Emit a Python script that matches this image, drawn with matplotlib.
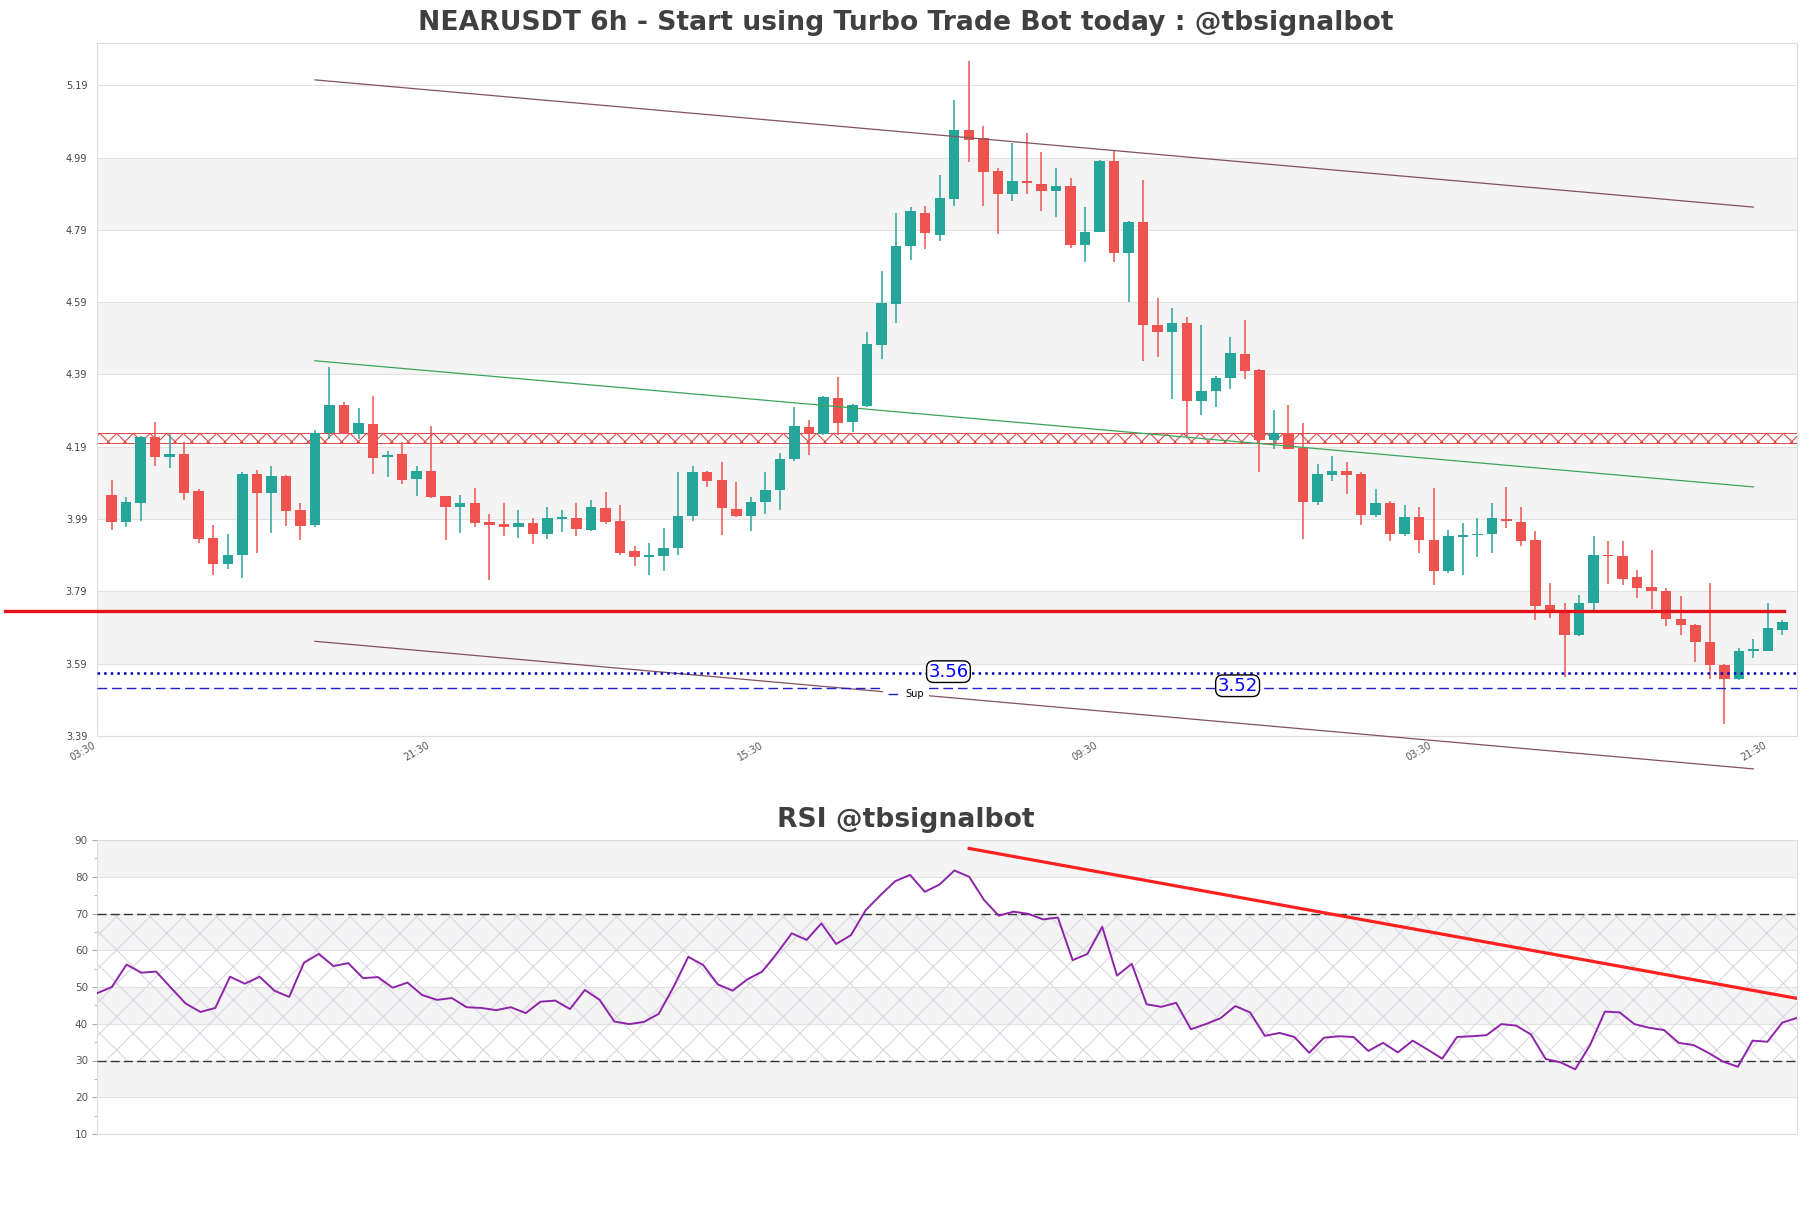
#!/usr/bin/env python3
"""NEARUSDT 6h candles with channel, support levels and RSI panel."""

import numpy as np
import matplotlib.pyplot as plt

# ---- data ----
opens = [4.056, 3.981, 4.034, 4.216, 4.161, 4.171, 4.067, 3.939, 3.867, 3.891,
         4.114, 4.062, 4.110, 4.014, 3.973, 4.227, 4.307, 4.225, 4.253, 4.163,
         4.169, 4.100, 4.123, 4.053, 4.024, 4.034, 3.981, 3.977, 3.967, 3.980,
         3.948, 3.991, 3.992, 3.961, 4.022, 3.986, 3.901, 3.884, 3.888, 3.911,
         3.999, 4.119, 4.098, 4.019, 3.999, 4.038, 4.070, 4.155, 4.246, 4.225,
         4.324, 4.259, 4.304, 4.472, 4.584, 4.745, 4.837, 4.777, 4.876, 5.066,
         5.044, 4.952, 4.889, 4.926, 4.917, 4.898, 4.911, 4.748, 4.784, 4.980,
         4.726, 4.813, 4.526, 4.508, 4.533, 4.318, 4.343, 4.380, 4.447, 4.403,
         4.210, 4.227, 4.187, 4.037, 4.113, 4.122, 4.116, 4.000, 4.034, 3.949,
         3.996, 3.933, 3.846, 3.941, 3.945, 3.948, 3.990, 3.981, 3.933, 3.751,
         3.736, 3.669, 3.757, 3.892, 3.888, 3.829, 3.803, 3.791, 3.713, 3.698,
         3.650, 3.586, 3.549, 3.625, 3.625, 3.683]
highs = [4.098, 4.051, 4.220, 4.259, 4.225, 4.202, 4.072, 3.973, 3.948, 4.119,
         4.127, 4.136, 4.112, 4.034, 4.237, 4.410, 4.314, 4.297, 4.331, 4.177,
         4.202, 4.138, 4.248, 4.053, 4.057, 4.075, 4.003, 4.034, 4.015, 3.992,
         4.024, 4.015, 4.034, 4.044, 4.066, 4.028, 3.916, 3.924, 3.964, 4.119,
         4.136, 4.122, 4.149, 4.094, 4.051, 4.119, 4.174, 4.301, 4.263, 4.330,
         4.384, 4.308, 4.507, 4.676, 4.837, 4.853, 4.857, 4.942, 5.149, 5.256,
         5.078, 4.961, 5.030, 5.057, 5.006, 4.961, 4.933, 4.853, 4.984, 5.012,
         4.815, 4.927, 4.602, 4.574, 4.549, 4.526, 4.387, 4.494, 4.542, 4.405,
         4.291, 4.307, 4.256, 4.142, 4.164, 4.149, 4.119, 4.072, 4.041, 4.028,
         4.024, 4.075, 3.961, 3.980, 3.994, 4.034, 4.079, 4.024, 3.958, 3.812,
         3.757, 3.780, 3.943, 3.929, 3.929, 3.850, 3.905, 3.800, 3.778, 3.700,
         3.812, 3.588, 3.634, 3.657, 3.757, 3.711]
lows = [3.961, 3.968, 3.984, 4.136, 4.132, 4.043, 3.924, 3.834, 3.853, 3.827,
        3.897, 3.952, 3.971, 3.933, 3.968, 4.212, 4.225, 4.212, 4.116, 4.107,
        4.088, 4.053, 4.047, 3.933, 3.952, 3.968, 3.821, 3.943, 3.938, 3.920,
        3.936, 3.954, 3.943, 3.958, 3.977, 3.892, 3.859, 3.834, 3.846, 3.892,
        3.984, 4.079, 3.945, 3.996, 3.958, 4.003, 4.015, 4.151, 4.168, 4.222,
        4.222, 4.231, 4.301, 4.434, 4.533, 4.707, 4.737, 4.758, 4.856, 4.977,
        4.856, 4.779, 4.870, 4.889, 4.843, 4.825, 4.739, 4.701, 4.784, 4.701,
        4.591, 4.428, 4.438, 4.323, 4.216, 4.279, 4.301, 4.349, 4.377, 4.121,
        4.183, 4.183, 3.935, 4.028, 4.095, 4.060, 3.975, 3.996, 3.930, 3.943,
        3.895, 3.808, 3.840, 3.834, 3.884, 3.895, 3.965, 3.916, 3.710, 3.717,
        3.552, 3.667, 3.736, 3.810, 3.808, 3.771, 3.742, 3.695, 3.670, 3.594,
        3.549, 3.422, 3.545, 3.606, 3.624, 3.670]
closes = [3.981, 4.037, 4.216, 4.161, 4.170, 4.063, 3.936, 3.867, 3.892, 4.114,
          4.062, 4.110, 4.013, 3.971, 4.229, 4.307, 4.225, 4.255, 4.159, 4.168,
          4.098, 4.123, 4.051, 4.024, 4.034, 3.980, 3.975, 3.967, 3.980, 3.948,
          3.992, 3.993, 3.962, 4.024, 3.981, 3.897, 3.884, 3.892, 3.911, 3.999,
          4.119, 4.095, 4.022, 3.999, 4.038, 4.070, 4.155, 4.248, 4.227, 4.327,
          4.257, 4.305, 4.475, 4.587, 4.745, 4.841, 4.781, 4.879, 5.066, 5.040,
          4.949, 4.888, 4.926, 4.919, 4.898, 4.911, 4.748, 4.784, 4.980, 4.726,
          4.813, 4.526, 4.508, 4.533, 4.318, 4.343, 4.380, 4.450, 4.400, 4.210,
          4.227, 4.184, 4.037, 4.114, 4.122, 4.113, 4.000, 4.034, 3.949, 3.996,
          3.933, 3.846, 3.943, 3.945, 3.950, 3.992, 3.984, 3.930, 3.749, 3.730,
          3.669, 3.757, 3.892, 3.888, 3.825, 3.800, 3.791, 3.713, 3.698, 3.650,
          3.586, 3.549, 3.625, 3.630, 3.688, 3.704]

rsi = [48.3, 50.0, 56.1, 53.9, 54.2, 49.8, 45.5, 43.2, 44.3, 52.8,
       50.9, 52.8, 49.0, 47.3, 56.6, 59.0, 55.7, 56.5, 52.4, 52.7,
       49.8, 51.2, 47.8, 46.5, 47.0, 44.5, 44.3, 43.7, 44.5, 42.9,
       46.0, 46.3, 44.0, 49.2, 46.5, 40.6, 39.9, 40.5, 42.7, 50.0,
       58.2, 56.0, 50.7, 49.0, 52.1, 54.2, 59.2, 64.6, 62.8, 67.3,
       61.7, 64.1, 70.9, 75.0, 78.8, 80.5, 75.9, 77.9, 81.7, 80.0,
       73.7, 69.4, 70.5, 69.9, 68.4, 68.9, 57.3, 59.0, 66.4, 53.1,
       56.3, 45.3, 44.6, 45.7, 38.5, 39.9, 41.5, 44.8, 43.1, 36.7,
       37.5, 36.4, 32.1, 36.2, 36.6, 36.4, 32.6, 34.8, 32.2, 35.4,
       33.0, 30.5, 36.4, 36.6, 36.9, 39.9, 39.5, 37.1, 30.4, 29.5,
       27.6, 34.2, 43.3, 43.1, 39.9, 38.9, 38.3, 34.8, 34.2, 32.1,
       29.7, 28.3, 35.4, 35.1, 40.3, 41.6]

time_labels = ['03:30', '21:30', '15:30', '09:30', '03:30', '21:30']
time_ticks = [0, 23, 46, 69, 92, 115]
price_ticks = [3.39, 3.59, 3.79, 3.99, 4.19, 4.39, 4.59, 4.79, 4.99, 5.19]
rsi_ticks = [10, 20, 30, 40, 50, 60, 70, 80, 90]

channel_x = [15, 114]
channel_upper = [5.205, 4.853]
channel_mid = [4.428, 4.079]
channel_lower = [3.652, 3.299]
zone_low, zone_high = 4.200, 4.228
red_level = 3.737
red_level_x = [-6.3, 116.1]
sup_levels = [3.563, 3.524]
sup_label_x = [58.6, 78.5]
rsi_trend_x = [59, 115]
rsi_trend_y = [87.7, 46.9]

GREEN = '#26a69a'
RED = '#ef5350'
BAND = '#f4f4f4'
GRID = '#e2e2e2'
SPINE = '#dddddd'

plt.rcParams['hatch.linewidth'] = 0.8

fig = plt.figure(figsize=(18.11, 12.08), dpi=100)
fig.patch.set_facecolor('white')

# ---- price panel ----
ax = fig.add_axes([97 / 1811, 1 - 736 / 1208, 1700 / 1811, 693 / 1208])
x = np.arange(1, len(opens) + 1)

for k in range(1, len(price_ticks) - 1, 2):
    ax.axhspan(price_ticks[k], price_ticks[k + 1], color=BAND, zorder=0, lw=0)

for xi, o, h, l, c in zip(x, opens, highs, lows, closes):
    col = GREEN if c >= o else RED
    ax.vlines(xi, l, h, color=col, lw=1.1, zorder=3)
    ax.bar(xi, max(abs(c - o), 0.004), bottom=min(o, c), width=0.72,
           color=col, zorder=4)

# resistance zone
ax.axhspan(zone_low, zone_high, facecolor='none', edgecolor='#e04848',
           hatch='xx', lw=0.7, zorder=2)

# channel
ax.plot(channel_x, channel_upper, color='#85505f', lw=0.9, zorder=5)
ax.plot(channel_x, channel_lower, color='#85505f', lw=0.9, zorder=5, clip_on=False)
ax.plot(channel_x, channel_mid, color='#3aa55a', lw=0.9, zorder=5)

# levels
ax.plot(red_level_x, [red_level, red_level], color='#e3151a', lw=2.4,
        zorder=6, clip_on=False)
ax.axhline(sup_levels[0], color='#0000bb', ls=':', lw=1.8, zorder=5)
ax.axhline(sup_levels[1], color='#2020cc', lw=1.0, dashes=(7, 3.5),
           zorder=5, label='Sup')
for lx, lv in zip(sup_label_x, sup_levels):
    ax.text(lx, lv + 0.005, f'{lv:.2f}', color='#0000ff', fontsize=13,
            ha='center', va='center', zorder=8,
            bbox=dict(boxstyle='round,pad=0.1,rounding_size=0.4',
                      fc='white', ec='black', lw=1))

leg = ax.legend(loc='center', bbox_to_anchor=(0.476, 0.06), fontsize=7,
                frameon=True, framealpha=1, edgecolor='none',
                handlelength=1.0, borderpad=0.5)
leg.set_zorder(9)

ax.set_xlim(0, 117)
ax.set_ylim(3.39, 5.307)
ax.set_yticks(price_ticks)
ax.set_yticklabels([f'{t:.2f}' for t in price_ticks])
ax.set_xticks(time_ticks)
ax.set_xticklabels(time_labels, rotation=30, ha='right')
ax.tick_params(axis='y', length=0, pad=7, labelsize=7, labelcolor='#444444')
ax.tick_params(axis='x', length=0, pad=3, labelsize=7, labelcolor='#555555')
ax.grid(axis='y', color=GRID, lw=0.8, zorder=1)
ax.set_axisbelow(True)
for s in ax.spines.values():
    s.set_color(SPINE)

fig.text(0.5, 1 - 23 / 1208, 'NEARUSDT 6h - Start using Turbo Trade Bot today : @tbsignalbot',
         ha='center', va='center', fontsize=19.2, fontweight='bold', color='#404040')

# ---- RSI panel ----
ax2 = fig.add_axes([97 / 1811, 1 - 1134 / 1208, 1700 / 1811, 294 / 1208])
for k in range(1, len(rsi_ticks) - 1, 2):
    ax2.axhspan(rsi_ticks[k], rsi_ticks[k + 1], color=BAND, zorder=0, lw=0)
ax2.axhspan(30, 70, facecolor='none', edgecolor='#dcd6e2', hatch='x', lw=0, zorder=1)
ax2.axhline(70, color='#333333', lw=1.0, dashes=(6.5, 3), zorder=3)
ax2.axhline(30, color='#333333', lw=1.0, dashes=(6.5, 3), zorder=3)
ax2.plot(np.arange(len(rsi)), rsi, color='#8e24aa', lw=1.4, zorder=4)
ax2.plot(rsi_trend_x, rsi_trend_y, color='#ff2020', lw=2.3, zorder=5)

ax2.set_xlim(0, len(rsi) - 1)
ax2.set_ylim(10, 90)
ax2.set_yticks(rsi_ticks)
ax2.set_yticks(np.arange(15, 90, 10), minor=True)
ax2.set_xticks([])
ax2.tick_params(axis='y', which='major', length=3.5, pad=3, labelsize=7.5,
                labelcolor='#555555', color='#aaaaaa')
ax2.tick_params(axis='y', which='minor', length=2, color='#aaaaaa')
ax2.grid(axis='y', color=GRID, lw=0.8, zorder=1)
ax2.set_axisbelow(True)
for s in ax2.spines.values():
    s.set_color(SPINE)

fig.text(0.5, 1 - 820 / 1208, 'RSI @tbsignalbot', ha='center', va='center',
         fontsize=19.2, fontweight='bold', color='#404040')

fig.savefig('out.png', dpi=100, facecolor='white')
